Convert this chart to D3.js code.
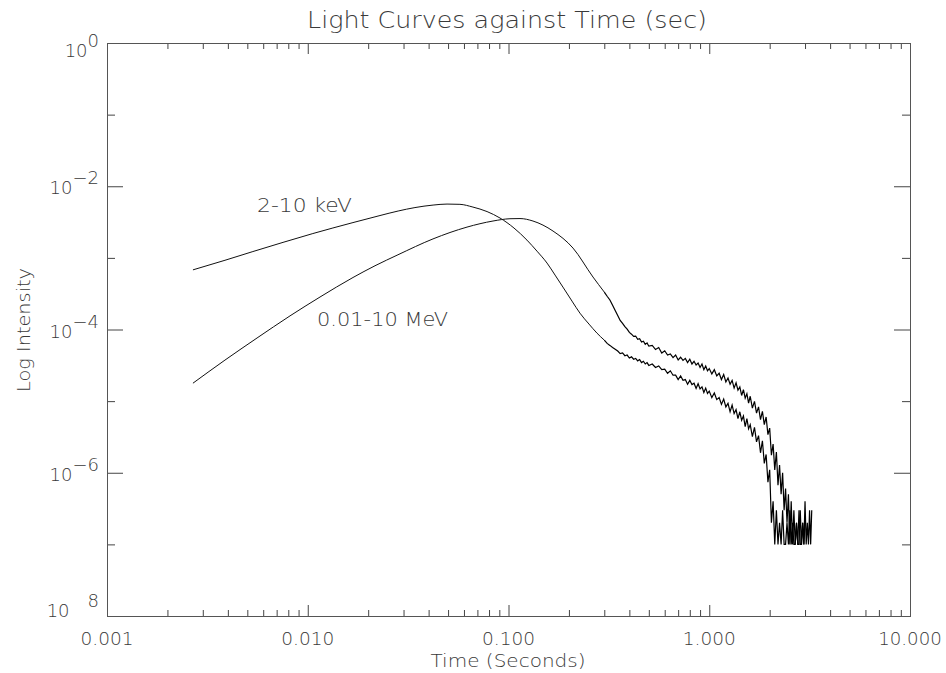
<html>
<head>
<title>Light Curves against Time</title>
<script src="https://d3js.org/d3.v7.min.js"></script>
<style>
  body { margin: 0; background: #fff; }
  text { font-family: "DejaVu Sans", sans-serif; font-weight: 200; fill: #3a3a3a; }
  .frame { fill: none; stroke: #555; stroke-width: 1; }
  .axis path { display: none; }
  .axis line { stroke: #444; stroke-width: 1; }
  .curve { fill: none; stroke: #111; stroke-width: 1; }
  .noisy { fill: none; stroke: #000; stroke-width: 1.2; }
</style>
</head>
<body>
<svg width="946" height="673"></svg>
<script>
// 2-10 keV, smooth part
const keVTime = [0.00268, 0.00387, 0.00533, 0.00753, 0.0106, 0.0168, 0.0229, 0.0282, 0.0342, 0.0421,
  0.0494, 0.0573, 0.0665, 0.0782, 0.0907, 0.1065, 0.1236, 0.1387, 0.1556, 0.1706,
  0.1867, 0.2072, 0.2270, 0.2518, 0.2759];
const keVFlux = [6.8e-4, 9.26e-4, 1.225e-3, 1.646e-3, 2.185e-3, 3.11e-3, 3.90e-3, 4.51e-3, 5.04e-3, 5.46e-3,
  5.64e-3, 5.59e-3, 5.12e-3, 4.43e-3, 3.60e-3, 2.61e-3, 1.77e-3, 1.24e-3, 8.46e-4, 5.75e-4,
  3.91e-4, 2.49e-4, 1.69e-4, 1.19e-4, 8.9e-5];

// 0.01-10 MeV, smooth part
const meVTime = [0.00268, 0.00387, 0.00559, 0.00816, 0.01151, 0.0168, 0.02163, 0.02815, 0.04206, 0.06213,
  0.0837, 0.1017, 0.1141, 0.1324, 0.1666, 0.2096, 0.2636];
const meVFlux = [1.78e-5, 3.74e-5, 7.61e-5, 1.55e-4, 2.84e-4, 5.32e-4, 7.76e-4, 1.105e-3, 1.84e-3, 2.69e-3,
  3.27e-3, 3.52e-3, 3.54e-3, 3.27e-3, 2.37e-3, 1.37e-3, 5.4e-4];

// noisy late part, shared time bins
const tailTime = [0.30, 0.31, 0.32, 0.33, 0.34, 0.35, 0.36, 0.37, 0.38, 0.39, 0.40, 0.41, 0.42, 0.43, 0.44, 0.45, 0.46, 0.47, 0.48, 0.49, 0.50,
  0.52, 0.54, 0.56, 0.58, 0.60, 0.62, 0.64, 0.66, 0.68, 0.70, 0.72, 0.74, 0.76, 0.78, 0.80, 0.82, 0.84, 0.86, 0.88, 0.90, 0.92, 0.94, 0.96, 0.98, 1.00,
  1.03, 1.06, 1.09, 1.12, 1.15, 1.18, 1.21, 1.24, 1.27, 1.30, 1.33, 1.36, 1.39, 1.42, 1.45, 1.48, 1.51, 1.54, 1.57, 1.60,
  1.64, 1.68, 1.72, 1.76, 1.80, 1.84, 1.88, 1.92, 1.96, 2.00,
  2.04, 2.08, 2.12, 2.16, 2.20, 2.24, 2.28, 2.32, 2.36, 2.40, 2.44, 2.48, 2.52, 2.56, 2.60, 2.64, 2.68, 2.72, 2.76, 2.80,
  2.84, 2.88, 2.92, 2.96, 3.00, 3.04, 3.08, 3.12, 3.16, 3.20, 3.24];
const tailKeV = [7.1e-5, 6.4e-5, 6.0e-5, 5.6e-5, 5.3e-5, 5.0e-5, 4.6e-5, 4.7e-5, 4.3e-5, 4.4e-5, 4.0e-5, 4.15e-5, 3.85e-5, 3.95e-5, 3.65e-5, 3.8e-5, 3.45e-5, 3.6e-5, 3.3e-5, 3.45e-5, 3.15e-5,
  3.3e-5, 2.95e-5, 3.1e-5, 2.75e-5, 2.8e-5, 2.45e-5, 2.65e-5, 2.3e-5, 2.3e-5, 2.0e-5, 2.25e-5, 1.95e-5, 2.0e-5, 1.72e-5, 1.95e-5, 1.7e-5, 1.78e-5, 1.5e-5, 1.75e-5, 1.48e-5, 1.58e-5, 1.32e-5, 1.52e-5, 1.28e-5, 1.38e-5,
  1.12e-5, 1.3e-5, 1.05e-5, 1.12e-5, 9.0e-6, 1.07e-5, 8.3e-6, 9.3e-6, 7.1e-6, 8.8e-6, 6.7e-6, 7.6e-6, 5.7e-6, 7.1e-6, 5.4e-6, 6.2e-6, 4.4e-6, 5.7e-6, 4.1e-6, 4.7e-6,
  3.2e-6, 4.3e-6, 2.7e-6, 3.3e-6, 1.9e-6, 2.8e-6, 1.35e-6, 1.8e-6, 7.4e-7, 1.1e-6,
  2e-7, 4e-7, 1e-7, 3e-7, 1e-7, 2e-7, 1e-7, 3e-7, 1e-7, 1e-7, 2e-7, 1e-7, 3e-7, 1e-7, 2e-7, 1e-7, 1e-7, 2e-7, 1e-7, 3e-7,
  1e-7, 1e-7, 2e-7, 1e-7, 2e-7, null, null, null, null, null, null];
const tailMeV = [3.33e-4, 2.91e-4, 2.58e-4, 2.18e-4, 1.84e-4, 1.57e-4, 1.34e-4, 1.22e-4, 1.10e-4, 1.01e-4, 9.1e-5, 8.6e-5, 8.0e-5, 8.1e-5, 7.3e-5, 7.45e-5, 6.7e-5, 6.85e-5, 6.2e-5, 6.5e-5, 5.85e-5,
  6.0e-5, 5.25e-5, 5.6e-5, 4.7e-5, 5.05e-5, 4.4e-5, 4.55e-5, 4.05e-5, 4.4e-5, 3.75e-5, 4.1e-5, 3.7e-5, 3.95e-5, 3.45e-5, 3.85e-5, 3.3e-5, 3.6e-5, 3.2e-5, 3.4e-5, 2.95e-5, 3.3e-5, 2.75e-5, 3.1e-5, 2.65e-5, 2.85e-5,
  2.4e-5, 2.75e-5, 2.25e-5, 2.45e-5, 2.0e-5, 2.35e-5, 1.85e-5, 2.1e-5, 1.72e-5, 1.95e-5, 1.52e-5, 1.8e-5, 1.42e-5, 1.58e-5, 1.2e-5, 1.45e-5, 1.1e-5, 1.27e-5, 9.4e-6, 1.17e-5,
  8.0e-6, 9.9e-6, 6.8e-6, 8.3e-6, 5.5e-6, 7.2e-6, 4.7e-6, 6.0e-6, 3.4e-6, 4.2e-6,
  1.76e-6, 2.51e-6, 1.09e-6, 1.94e-6, 6.7e-7, 1.28e-6, 5e-7, 1.0e-6, 3e-7, 6e-7, 2e-7, 5e-7, 1e-7, 4e-7, 1e-7, 3e-7, 1e-7, 2e-7, 1e-7, 1e-7,
  3e-7, 1e-7, 2e-7, 1e-7, 4e-7, 1e-7, 2e-7, 1e-7, 3e-7, 1e-7, 3e-7];

const xMajor = [0.001, 0.01, 0.1, 1, 10];
const xLabels = ['0.001', '0.010', '0.100', '1.000', '10.000'];
const yMajor = [1, 1e-2, 1e-4, 1e-6, 1e-8];
const yMinor = [1e-1, 1e-3, 1e-5, 1e-7];
const yExp = ['0', '\u22122', '\u22124', '\u22126', '\u20038'];

const svg = d3.select('svg');
const plotLeft = 107, plotRight = 910, plotTop = 43, plotBottom = 616;

const x = d3.scaleLog().domain([0.001, 10]).range([plotLeft, plotRight]);
const y = d3.scaleLog().domain([1e-8, 1]).range([plotBottom, plotTop]);

const xMinor = x.ticks().filter(d => !xMajor.some(m => Math.abs(m - d) < 1e-12));

// ticks on all four sides, pointing inward
function ticks(axis, tr) {
  svg.append('g').attr('class', 'axis').attr('transform', tr).call(axis);
}
ticks(d3.axisBottom(x).tickValues(xMinor).tickSize(-6).tickSizeOuter(0).tickFormat(''), `translate(0,${plotBottom})`);
ticks(d3.axisBottom(x).tickValues(xMajor).tickSize(-11).tickSizeOuter(0).tickFormat(''), `translate(0,${plotBottom})`);
ticks(d3.axisTop(x).tickValues(xMinor).tickSize(-6).tickSizeOuter(0).tickFormat(''), `translate(0,${plotTop})`);
ticks(d3.axisTop(x).tickValues(xMajor).tickSize(-11).tickSizeOuter(0).tickFormat(''), `translate(0,${plotTop})`);
ticks(d3.axisLeft(y).tickValues(yMinor).tickSize(-8).tickSizeOuter(0).tickFormat(''), `translate(${plotLeft},0)`);
ticks(d3.axisLeft(y).tickValues(yMajor).tickSize(-16).tickSizeOuter(0).tickFormat(''), `translate(${plotLeft},0)`);
ticks(d3.axisRight(y).tickValues(yMinor).tickSize(-8).tickSizeOuter(0).tickFormat(''), `translate(${plotRight},0)`);
ticks(d3.axisRight(y).tickValues(yMajor).tickSize(-16).tickSizeOuter(0).tickFormat(''), `translate(${plotRight},0)`);

svg.append('rect').attr('class', 'frame')
  .attr('x', plotLeft + 0.5).attr('y', plotTop + 0.5)
  .attr('width', plotRight - plotLeft).attr('height', plotBottom - plotTop);

// x tick labels
svg.append('g').selectAll('text')
  .data(xMajor)
  .join('text')
  .attr('x', d => x(d))
  .attr('y', plotBottom + 29)
  .attr('text-anchor', 'middle')
  .attr('textLength', (d, i) => xLabels[i].length * 10.6)
  .attr('lengthAdjust', 'spacingAndGlyphs')
  .style('font-size', '18px')
  .text((d, i) => xLabels[i]);

// y tick labels: 10 with exponent
const yl = svg.append('g').selectAll('text')
  .data(yMajor)
  .join('text')
  .attr('x', plotLeft - 8)
  .attr('y', (d, i) => y(d) + (i === 0 ? 14 : i === yMajor.length - 1 ? 1 : 8))
  .attr('text-anchor', 'end')
  .style('font-size', '18px');
yl.append('tspan').text('10');
yl.append('tspan').attr('dy', -10).text((d, i) => yExp[i]);

// titles
svg.append('text').attr('x', 507).attr('y', 28).attr('text-anchor', 'middle')
  .attr('textLength', 400).attr('lengthAdjust', 'spacingAndGlyphs')
  .style('font-size', '23px').text('Light Curves against Time (sec)');
svg.append('text').attr('x', 508).attr('y', 667).attr('text-anchor', 'middle')
  .attr('textLength', 155).attr('lengthAdjust', 'spacingAndGlyphs')
  .style('font-size', '18px').text('Time (Seconds)');
svg.append('text').attr('transform', 'translate(30,330) rotate(-90)').attr('text-anchor', 'middle')
  .attr('textLength', 124).attr('lengthAdjust', 'spacingAndGlyphs')
  .style('font-size', '17px').text('Log Intensity');

// curves: smooth early part, then the noisy tail
const smoothPart = (tt, ff, tail) => tt.map((t, i) => ({ t, v: ff[i] })).concat([{ t: tailTime[0], v: tail[0] }]);
const tailPart = tail => tailTime.map((t, i) => ({ t, v: tail[i] })).filter(d => d.v != null);

const smoothLine = d3.line().x(d => x(d.t)).y(d => y(d.v)).curve(d3.curveMonotoneX);
const rawLine = d3.line().x(d => x(d.t)).y(d => y(d.v));

svg.append('path').attr('class', 'curve').attr('d', smoothLine(smoothPart(keVTime, keVFlux, tailKeV)));
svg.append('path').attr('class', 'curve').attr('d', smoothLine(smoothPart(meVTime, meVFlux, tailMeV)));
svg.append('path').attr('class', 'noisy').attr('d', rawLine(tailPart(tailKeV)));
svg.append('path').attr('class', 'noisy').attr('d', rawLine(tailPart(tailMeV)));

svg.append('text').attr('x', 257).attr('y', 212)
  .attr('textLength', 95).attr('lengthAdjust', 'spacingAndGlyphs')
  .style('font-size', '19px').text('2-10 keV');
svg.append('text').attr('x', 317).attr('y', 326)
  .attr('textLength', 131).attr('lengthAdjust', 'spacingAndGlyphs')
  .style('font-size', '19px').text('0.01-10 MeV');
</script>
</body>
</html>
